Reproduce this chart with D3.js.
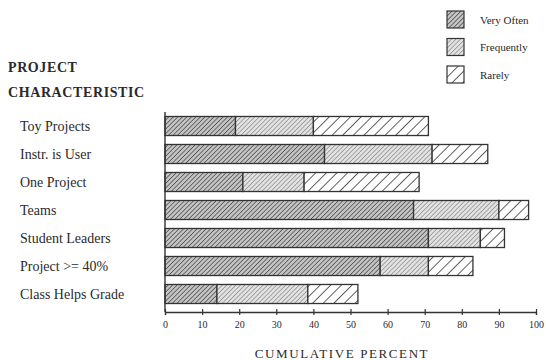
<!DOCTYPE html>
<html>
<head>
<meta charset="utf-8">
<script src="https://cdn.jsdelivr.net/npm/d3@7"></script>
<style>
  body { margin: 0; background: #fff; }
  text { font-family: "Liberation Serif", "DejaVu Serif", serif; fill: #2a2a2a; }
</style>
</head>
<body>
<div id="chart-area"></div>
<script>
// categories and cumulative end points for each series (percent)
var categories = ["Toy Projects", "Instr. is User", "One Project", "Teams",
                  "Student Leaders", "Project >= 40%", "Class Helps Grade"];
var series = ["Very Often", "Frequently", "Rarely"];
var veryOften  = [19, 43, 21, 67, 71, 58, 14];
var frequently = [40, 72, 37.5, 90, 85, 71, 38.5];
var rarely     = [71, 87, 68.5, 98, 91.5, 83, 52];
var xTicks = [0, 10, 20, 30, 40, 50, 60, 70, 80, 90, 100];

var width = 546, height = 360;

var svg = d3.select("#chart-area")
    .append("svg")
        .attr("width", width)
        .attr("height", height);

// hatch patterns
var defs = svg.append("defs");
function hatch(id, spacing, bg, stroke, sw) {
    var p = defs.append("pattern")
        .attr("id", id)
        .attr("patternUnits", "userSpaceOnUse")
        .attr("width", spacing)
        .attr("height", spacing)
        .attr("patternTransform", "rotate(45)");
    p.append("rect").attr("width", spacing).attr("height", spacing).attr("fill", bg);
    p.append("line")
        .attr("x1", 0).attr("y1", 0).attr("x2", 0).attr("y2", spacing)
        .attr("stroke", stroke).attr("stroke-width", sw);
}
hatch("p0", 3.2, "#c4c4c4", "#3a3a3a", 1.3);
hatch("p1", 3.2, "#e2e2e2", "#727272", 1.1);
hatch("p2", 7.5, "#fff", "#3a3a3a", 1.6);
var fills = ["url(#p0)", "url(#p1)", "url(#p2)"];

// X Scale
var x = d3.scaleLinear()
    .domain([0, 100])
    .range([165, 536]);

// Y Scale
var y = d3.scaleBand()
    .domain(categories)
    .range([112, 308])
    .paddingInner(0.32)
    .paddingOuter(0.16);

// build segments from the cumulative arrays
var segs = [];
categories.forEach(function(c, i) {
    var ends = [veryOften[i], frequently[i], rarely[i]];
    var start = 0;
    ends.forEach(function(e, k) {
        segs.push({ cat: c, k: k, x0: start, x1: e });
        start = e;
    });
});

svg.selectAll("rect.seg")
    .data(segs)
    .enter()
    .append("rect")
        .attr("class", "seg")
        .attr("x", function(d){ return x(d.x0); })
        .attr("y", function(d){ return y(d.cat); })
        .attr("width", function(d){ return x(d.x1) - x(d.x0); })
        .attr("height", y.bandwidth())
        .attr("fill", function(d){ return fills[d.k]; })
        .attr("stroke", "#333")
        .attr("stroke-width", 1.3);

// X Axis
var xAxisCall = d3.axisBottom(x)
    .tickValues(xTicks)
    .tickSize(3)
    .tickPadding(6);
var xAxisGroup = svg.append("g")
    .attr("transform", "translate(0,312)")
    .call(xAxisCall);
xAxisGroup.select(".domain").attr("stroke", "#333").attr("stroke-width", 1.3);
xAxisGroup.selectAll(".tick line")
    .attr("y1", -3).attr("y2", 3)
    .attr("stroke", "#333").attr("stroke-width", 1.2);
xAxisGroup.selectAll(".tick text")
    .attr("font-family", "Liberation Serif")
    .attr("font-size", "10px")
    .attr("fill", "#2a2a2a");

// Y axis line
svg.append("line")
    .attr("x1", x(0)).attr("x2", x(0))
    .attr("y1", 112).attr("y2", 312)
    .attr("stroke", "#333")
    .attr("stroke-width", 1.4);

// category labels
svg.selectAll("text.cat")
    .data(categories)
    .enter()
    .append("text")
        .attr("class", "cat")
        .attr("x", 20)
        .attr("y", function(d){ return y(d) + y.bandwidth() / 2; })
        .attr("dy", "0.35em")
        .attr("font-size", "14px")
        .text(function(d){ return d; });

// Y Label
svg.append("text")
    .attr("x", 8)
    .attr("y", 67)
    .attr("dy", "0.35em")
    .attr("font-size", "14px")
    .attr("font-weight", "bold")
    .attr("letter-spacing", "0.6px")
    .text("PROJECT");
svg.append("text")
    .attr("x", 8)
    .attr("y", 92)
    .attr("dy", "0.35em")
    .attr("font-size", "14px")
    .attr("font-weight", "bold")
    .attr("letter-spacing", "0.6px")
    .text("CHARACTERISTIC");

// X Label
svg.append("text")
    .attr("x", 342)
    .attr("y", 353)
    .attr("dy", "0.35em")
    .attr("text-anchor", "middle")
    .attr("font-size", "13px")
    .attr("letter-spacing", "1.6px")
    .text("CUMULATIVE PERCENT");

// legend
var legend = svg.selectAll("g.legend")
    .data(series)
    .enter()
    .append("g")
        .attr("class", "legend")
        .attr("transform", function(d, i){ return "translate(447," + (11 + i * 27.5) + ")"; });
legend.append("rect")
    .attr("width", 17)
    .attr("height", 17)
    .attr("fill", function(d, i){ return fills[i]; })
    .attr("stroke", "#333")
    .attr("stroke-width", 1.2);
legend.append("text")
    .attr("x", 33)
    .attr("y", 9)
    .attr("dy", "0.35em")
    .attr("font-size", "11px")
    .text(function(d){ return d; });
</script>
</body>
</html>
